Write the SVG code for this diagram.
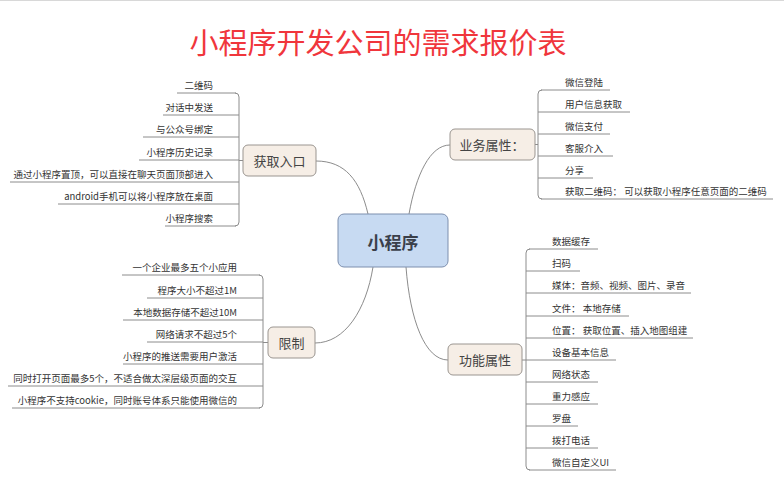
<svg xmlns="http://www.w3.org/2000/svg" width="784" height="486" viewBox="0 0 784 486">
<style>
.t{font-family:"Noto Sans CJK SC","Noto Sans",sans-serif;font-size:9.5px;fill:#333}
.r{text-anchor:end}
.n{font-family:"Noto Sans CJK SC","Noto Sans",sans-serif;font-size:13px;fill:#444;text-anchor:middle}
.ln{fill:none;stroke:#8c8c8c;stroke-width:1}
.box{fill:#f6eee6;stroke:#9a9590;stroke-width:1}
</style>
<rect width="784" height="486" fill="#fff"/>
<line x1="0" y1="0.5" x2="784" y2="0.5" stroke="#d8d8d8"/>
<text x="378" y="54" text-anchor="middle" font-family="'Noto Sans CJK SC',sans-serif" font-size="29" fill="#f0363c">小程序开发公司的需求报价表</text>

<g id="connectors" class="ln">
<path d="M368,214 C360,180 345,161 316,161"/>
<path d="M409,214 C416,175 430,145 450,145"/>
<path d="M373,267 C366,310 345,343 315,343"/>
<path d="M406,267 C410,320 425,360 448,360"/>
<!-- 获取入口 bracket -->
<path d="M235,93 Q239,93 239,97 V222 Q239,226 235,226"/>
<path d="M239,160.5 H243"/>
<path d="M177,93 H236 M163,115 H239 M143,137 H239 M139,160 H239 M10,182 H239 M58,204 H239 M165,226 H236"/>
<!-- 限制 bracket -->
<path d="M259,275 Q263,275 263,279 V404 Q263,408 259,408"/>
<path d="M263,342.5 H268"/>
<path d="M122,275 H260 M147,298 H263 M123,320 H263 M147,342 H263 M123,364 H263 M8,386 H263 M12,408 H260"/>
<!-- 业务属性 bracket -->
<path d="M542,90 Q538,90 538,94 V195 Q538,199 542,199"/>
<path d="M535,144.5 H538"/>
<path d="M541,90 H610 M538,112 H630 M538,134 H610 M538,156 H613 M538,178 H593 M541,199 H773"/>
<!-- 功能属性 bracket -->
<path d="M530,249 Q526,249 526,253 V466 Q526,470 530,470"/>
<path d="M522,360 H526"/>
<path d="M529,249 H598 M526,271 H580 M526,293 H691 M526,316 H629 M526,338 H693 M526,360 H616 M526,382 H598 M526,404 H598 M526,426 H578 M526,448 H598 M529,470 H616"/>
</g>

<g id="center">
<rect x="338" y="214" width="110" height="53" rx="6" fill="#c7daf2" stroke="#7d8fae"/>
<text x="393" y="249" text-anchor="middle" font-family="'Noto Sans CJK SC',sans-serif" font-size="17" font-weight="bold" fill="#3a3f4a">小程序</text>
</g>

<g id="node-huoqu">
<rect class="box" x="243" y="145" width="73" height="31" rx="5"/>
<text class="n" x="279.5" y="165.5">获取入口</text>
</g>
<g id="node-yewu">
<rect class="box" x="450" y="129" width="85" height="31" rx="5"/>
<text class="n" x="492" y="149.5">业务属性：</text>
</g>
<g id="node-xianzhi">
<rect class="box" x="268" y="327" width="47" height="31" rx="5"/>
<text class="n" x="291.5" y="347.5">限制</text>
</g>
<g id="node-gongneng">
<rect class="box" x="448" y="344" width="74" height="31" rx="5"/>
<text class="n" x="485" y="364.5">功能属性</text>
</g>

<g id="items-huoqu" class="t r">
<text x="213" y="89">二维码</text>
<text x="213" y="111">对话中发送</text>
<text x="213" y="133">与公众号绑定</text>
<text x="213" y="156">小程序历史记录</text>
<text x="213" y="178">通过小程序置顶，可以直接在聊天页面顶部进入</text>
<text x="213" y="200">android手机可以将小程序放在桌面</text>
<text x="213" y="222">小程序搜索</text>
</g>

<g id="items-xianzhi" class="t r">
<text x="237" y="271">一个企业最多五个小应用</text>
<text x="237" y="294">程序大小不超过1M</text>
<text x="237" y="316">本地数据存储不超过10M</text>
<text x="237" y="338">网络请求不超过5个</text>
<text x="237" y="360">小程序的推送需要用户激活</text>
<text x="237" y="382">同时打开页面最多5个，不适合做太深层级页面的交互</text>
<text x="237" y="404">小程序不支持cookie，同时账号体系只能使用微信的</text>
</g>

<g id="items-yewu" class="t">
<text x="565" y="86">微信登陆</text>
<text x="565" y="108">用户信息获取</text>
<text x="565" y="130">微信支付</text>
<text x="565" y="152">客服介入</text>
<text x="565" y="174">分享</text>
<text x="565" y="195">获取二维码： 可以获取小程序任意页面的二维码</text>
</g>

<g id="items-gongneng" class="t">
<text x="552" y="245">数据缓存</text>
<text x="552" y="267">扫码</text>
<text x="552" y="289">媒体：音频、视频、图片、录音</text>
<text x="552" y="312">文件： 本地存储</text>
<text x="552" y="334">位置： 获取位置、插入地图组建</text>
<text x="552" y="356">设备基本信息</text>
<text x="552" y="378">网络状态</text>
<text x="552" y="400">重力感应</text>
<text x="552" y="422">罗盘</text>
<text x="552" y="444">拨打电话</text>
<text x="552" y="466">微信自定义UI</text>
</g>
</svg>
